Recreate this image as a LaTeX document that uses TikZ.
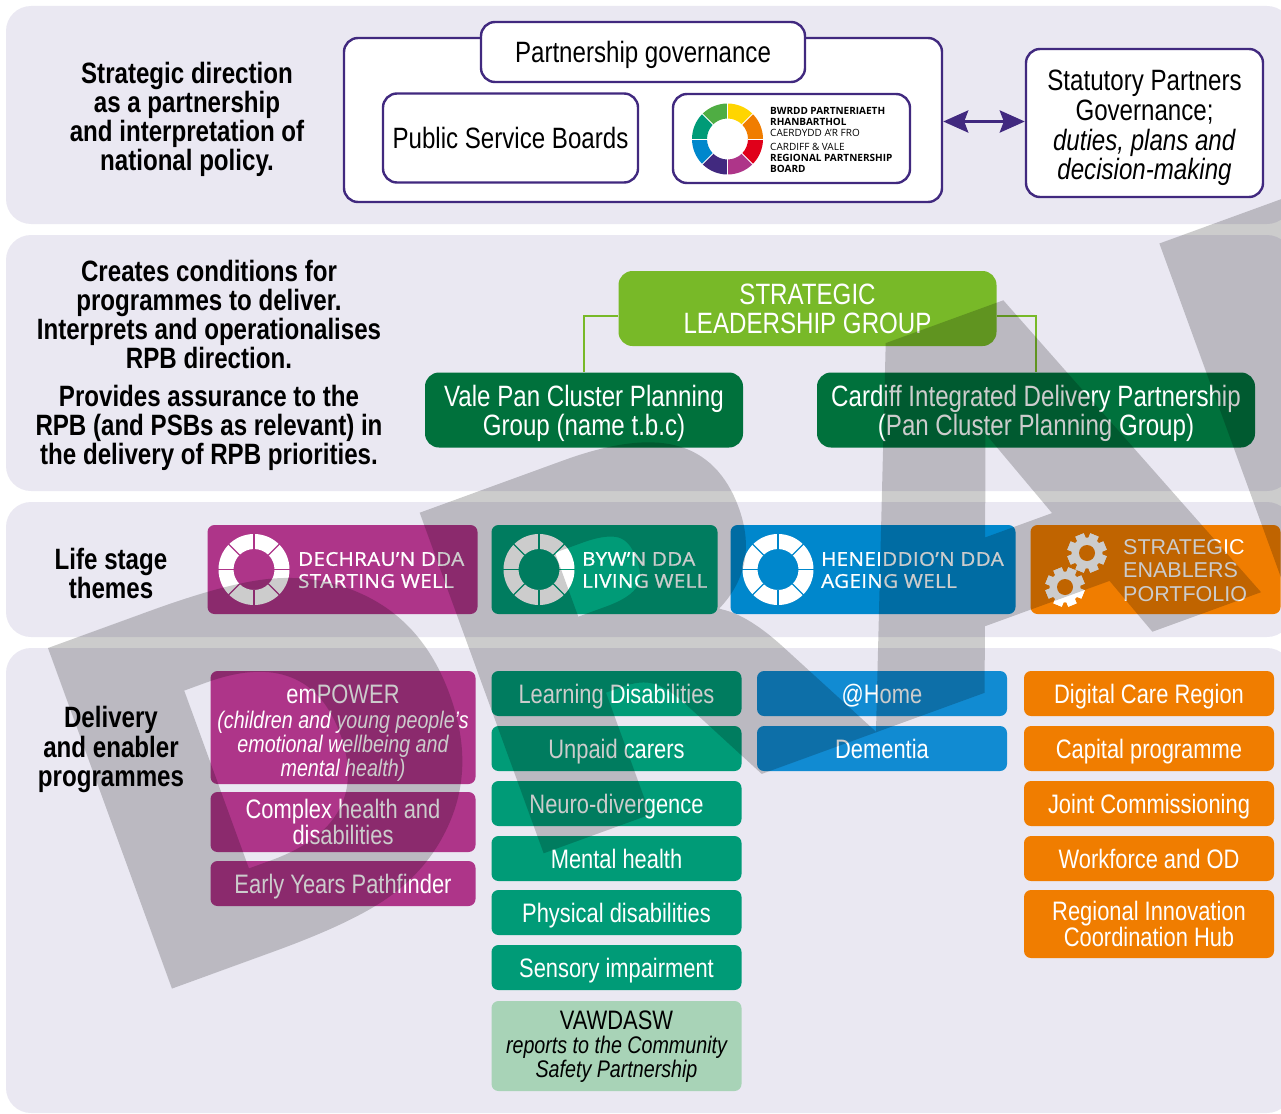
\documentclass[tikz,border=0pt]{standalone}
\usepackage{fontspec}
\setmainfont[FakeStretch=0.82]{Liberation Sans}
\newfontfamily\plainfont{Liberation Sans}
\newfontfamily\ringfont[FakeStretch=1.08,FakeBold=1,LetterSpace=2]{Open Sans}
\newfontfamily\logofont{Open Sans}
\newfontfamily\wmfont[FakeStretch=1.06,FakeBold=4.2]{DejaVu Sans Bold}
\usetikzlibrary{arrows.meta}
\definecolor{panelbg}{HTML}{EAE8F2}
\definecolor{govpurple}{HTML}{41297F}
\definecolor{slgreen}{HTML}{78B928}
\definecolor{pcgreen}{HTML}{00713C}
\definecolor{wellmag}{HTML}{AE3589}
\definecolor{wellteal}{HTML}{009B77}
\definecolor{wellblue}{HTML}{0087CC}
\definecolor{progblue}{HTML}{118BD2}
\definecolor{enaborange}{HTML}{F07D00}
\definecolor{vawgreen}{HTML}{A8D3B7}
\definecolor{wyellow}{HTML}{FFD500}
\definecolor{wred}{HTML}{E0001A}
\definecolor{wgreen}{HTML}{4FAD43}
\tikzset{
  panel/.style={fill=panelbg,rounded corners=25pt},
  govbox/.style={draw=govpurple,line width=2.4pt,fill=white,rounded corners=14pt,align=center,inner sep=0pt,text depth=0pt},
  leadbox/.style={rounded corners=14pt,align=center,inner sep=0pt,text=white,text depth=0pt,font=\fontsize{29.4}{29}\selectfont},
  wellbox/.style={rounded corners=7pt,minimum height=89pt,inner sep=0pt},
  progbox/.style={rounded corners=7pt,inner sep=0pt,align=center,text=white,text depth=0pt,minimum width=250pt,minimum height=45pt,font=\fontsize{26.7}{26.5}\selectfont},
  sidetext/.style={align=center,inner sep=0pt,text depth=0pt,font=\bfseries\fontsize{29.4}{29.2}\selectfont},
  welltext/.style={anchor=west,align=left,inner sep=0pt,text=white,font=\ringfont\fontsize{19}{22}\selectfont}
}
\newcommand{\subline}{\fontsize{24}{24}\selectfont\itshape}
% white ring of the life stage badges
\newcommand{\ringmark}[3]{
  \begin{scope}[shift={(#1,#2)}]
    \fill[white,even odd rule] (0,0) circle (35.5) (0,0) circle (20.5);
    \foreach \a in {0,45,...,315}
      \draw[#3,line width=1.1pt] (\a:20) -- (\a:36);
  \end{scope}}
% cog wheel of the enablers badge
\newcommand{\cogmark}[2]{
  \begin{scope}[shift={(#1,#2)}]
    \foreach \a in {0,45,...,315}
      \fill[white,rotate=\a+22.5] (-4.5,-19.5) rectangle (4.5,19.5);
    \fill[white] (0,0) circle (15.5);
    \fill[enaborange] (0,0) circle (8);
  \end{scope}}

\begin{document}
\begin{tikzpicture}[x=1pt,y=-1pt,>={Stealth[length=25pt,width=22pt,inset=4pt]}]
\useasboundingbox (0,0) rectangle (1281,1113);
\begin{scope}
  \clip (0,0) rectangle (1281,1113);
  % background bands
  \fill[panel] (6,6) rectangle (1292,224);
  \fill[panel] (6,235) rectangle (1292,491);
  \fill[panel] (6,502) rectangle (1292,637);
  \fill[panel] (6,648) rectangle (1292,1113);

  % governance row
  \node[sidetext] (strategic) at (187,116.5) {Strategic direction\\as a partnership\\and interpretation of\\national policy.};
  \node[govbox,minimum width=598pt,minimum height=164pt] (govouter) at (643,120) {};
  \node[govbox,minimum width=324pt,minimum height=60pt,font=\fontsize{29.4}{29}\selectfont] (govtitle) at (643,52) {Partnership governance};
  \node[govbox,minimum width=255pt,minimum height=89pt,font=\fontsize{29.4}{29}\selectfont] (psb) at (510.5,138) {Public Service Boards};
  \node[govbox,minimum width=237pt,minimum height=89pt] (rpb) at (791.5,138.5) {};
  \begin{scope}[shift={(727.5,139)},y=1pt]
    \foreach \a/\c in {90/wyellow,45/enaborange,0/wred,-45/wellmag,-90/govpurple,-135/wellblue,-180/wellteal,-225/wgreen}
      \fill[\c] (\a:35.5) arc (\a:\a-45:35.5) -- (\a-45:20.5) arc (\a-45:\a:20.5) -- cycle;
    \foreach \a in {0,45,...,315}
      \draw[white,line width=1pt] (\a:20) -- (\a:36);
  \end{scope}
  \node[anchor=west,align=left,inner sep=0pt,font=\logofont\fontsize{10}{11}\selectfont] (rpbname) at (770,140)
    {\textbf{BWRDD PARTNERIAETH}\\\textbf{RHANBARTHOL}\\CAERDYDD A’R FRO\\[3.5pt]CARDIFF \& VALE\\\textbf{REGIONAL PARTNERSHIP}\\\textbf{BOARD}};
  \node[govbox,minimum width=237pt,minimum height=148pt,font=\fontsize{29.4}{29.7}\selectfont] (statutory) at (1144.5,123)
    {\rule{0pt}{24.5pt}Statutory Partners\\Governance;\\\textit{duties, plans and}\\\textit{decision-making}};
  \draw[<->,govpurple,line width=3.5pt] ([yshift=-1.5pt]govouter.east) -- ([yshift=-1.5pt]govouter.east -| statutory.west);

  % leadership row
  \node[sidetext] (creates) at (209,314.5) {Creates conditions for\\programmes to deliver.\\Interprets and operationalises\\RPB direction.};
  \node[sidetext] (assures) at (209,425) {Provides assurance to the\\RPB (and PSBs as relevant) in\\the delivery of RPB priorities.};
  \node[leadbox,fill=slgreen,minimum width=378pt,minimum height=75pt] (slg) at (807.5,308.5) {STRATEGIC\\LEADERSHIP GROUP};
  \node[leadbox,fill=pcgreen,minimum width=318pt,minimum height=75pt] (valepan) at (584,410) {Vale Pan Cluster Planning\\Group (name t.b.c)};
  \node[leadbox,fill=pcgreen,minimum width=438pt,minimum height=75pt] (cardiffidp) at (1036,410) {Cardiff Integrated Delivery Partnership\\(Pan Cluster Planning Group)};
  \draw[slgreen,line width=2pt] ([yshift=-7.5pt]slg.west) -| (valepan.north);
  \draw[slgreen,line width=2pt] ([yshift=-7.5pt]slg.east) -| (cardiffidp.north);

  % life stage row
  \node[sidetext] (lifestage) at (111,573.5) {Life stage\\themes};
  \node[wellbox,fill=wellmag,minimum width=270pt] (starting) at (342.5,569.5) {};
  \node[wellbox,fill=wellteal,minimum width=226pt] (living) at (604.5,569.5) {};
  \node[wellbox,fill=wellblue,minimum width=285pt] (ageing) at (873,569.5) {};
  \node[wellbox,fill=enaborange,minimum width=250pt] (enablers) at (1155.5,569.5) {};
  \ringmark{254}{569.5}{wellmag}
  \ringmark{539}{569.5}{wellteal}
  \ringmark{778}{569.5}{wellblue}
  \cogmark{1087}{553}
  \cogmark{1065}{587}
  \node[welltext] (startingtxt) at (298,570) {DECHRAU’N DDA\\STARTING WELL};
  \node[welltext] (livingtxt) at (582,570) {BYW’N DDA\\LIVING WELL};
  \node[welltext] (ageingtxt) at (821,570) {HENEIDDIO’N DDA\\AGEING WELL};
  \node[anchor=west,align=left,inner sep=0pt,text=white,font=\plainfont\fontsize{21.5}{23.7}\selectfont] (enablerstxt) at (1123,570.5) {STRATEGIC\\ENABLERS\\PORTFOLIO};

  % delivery row
  \node[sidetext] (delivery) at (111,746.5) {Delivery\\and enabler\\programmes};
  \node[progbox,fill=wellmag,minimum width=265pt,minimum height=113pt] (empower) at (343,727.5)
    {\rule{0pt}{25pt}emPOWER\\[-1.5pt]\subline (children and young people’s\\[-3pt]\subline emotional wellbeing and\\[-2.5pt]\subline mental health)};
  \node[progbox,fill=wellmag,minimum width=265pt,minimum height=60pt] (complex) at (343,822) {Complex health and\\disabilities};
  \node[progbox,fill=wellmag,minimum width=265pt] (earlyyears) at (343,883.5) {Early Years Pathfinder};
  \foreach \y/\nm/\txt in {693.5/learning/Learning Disabilities,748.5/unpaid/Unpaid carers,803.5/neuro/Neuro-divergence,858.5/mental/Mental health,912.5/physical/Physical disabilities,967.5/sensory/Sensory impairment}
    \node[progbox,fill=wellteal] (\nm) at (616.5,\y) {\txt};
  \node[progbox,fill=vawgreen,text=black,text depth=4pt,minimum height=90pt] (vawdasw) at (616.5,1046)
    {VAWDASW\\[-2pt]\subline reports to the Community\\[-2.5pt]\subline Safety Partnership};
  \foreach \y/\nm/\txt in {693.5/athome/@Home,748.5/dementia/Dementia}
    \node[progbox,fill=progblue] (\nm) at (882,\y) {\txt};
  \foreach \y/\nm/\txt in {693.5/digital/Digital Care Region,748.5/capital/Capital programme,803.5/jointcomm/Joint Commissioning,858.5/workforce/Workforce and OD}
    \node[progbox,fill=enaborange] (\nm) at (1149,\y) {\txt};
  \node[progbox,fill=enaborange,minimum height=68pt] (innovation) at (1149,924) {Regional Innovation\\Coordination Hub};

  % watermark over everything
  \begin{scope}[transparency group,opacity=0.2]
    \node[anchor=base west,inner sep=0pt,rotate=20,text=black,font=\wmfont\fontsize{470}{470}\selectfont] (draftmark) at (134.7,991.6) {D\kern-18pt R\kern18pt AFT};
  \end{scope}
\end{scope}
\end{tikzpicture}
\end{document}
